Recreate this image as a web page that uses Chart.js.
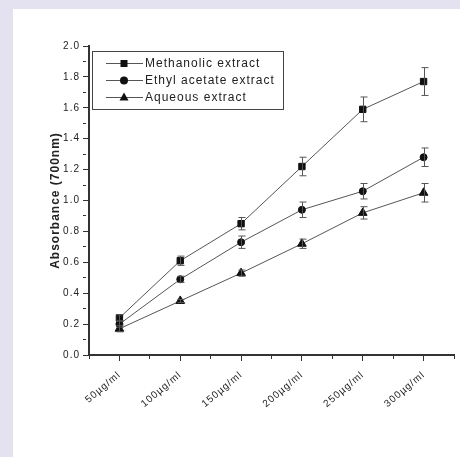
<!DOCTYPE html>
<html lang="en">
<head>
  <meta charset="UTF-8" />
  <title>Absorbance</title>
  <script src="https://cdn.jsdelivr.net/npm/chart.js@4"></script>
  <style>
    body { margin: 0; background: #e4e1f0; }
    #wrap { position: absolute; left: 13px; top: 9px; width: 447px; height: 448px; background: #fff; }
  </style>
</head>
<body>
  <div id="wrap">
    <canvas id="chart" width="447" height="448"></canvas>
  </div>

  <script>
    const categories = ['50µg/ml', '100µg/ml', '150µg/ml', '200µg/ml', '250µg/ml', '300µg/ml'];
    const seriesNames = ['Methanolic extract', 'Ethyl acetate extract', 'Aqueous extract'];
    const methanolic = [0.24, 0.61, 0.85, 1.22, 1.59, 1.77];
    const methanolicErr = [0.02, 0.03, 0.04, 0.06, 0.08, 0.09];
    const ethyl = [0.20, 0.49, 0.73, 0.94, 1.06, 1.28];
    const ethylErr = [0.02, 0.02, 0.04, 0.05, 0.05, 0.06];
    const aqueous = [0.17, 0.35, 0.53, 0.72, 0.92, 1.05];
    const aqueousErr = [0.02, 0.01, 0.02, 0.03, 0.04, 0.06];
    const yTitle = 'Absorbance (700nm)';

    const FONT = "'Liberation Sans', Arial, sans-serif";
    const INK = '#222';

    function makeSet(label, values, errs, style, radius) {
      return {
        label: label,
        data: values.map((v, i) => ({ x: i, y: v })),
        errors: errs,
        borderColor: '#555',
        borderWidth: 1,
        pointStyle: style,
        pointRadius: radius,
        pointBackgroundColor: '#111',
        pointBorderColor: '#111',
        pointBorderWidth: 1,
        tension: 0
      };
    }

    // canvas letter spacing, the original text is spread out
    const spacing = {
      id: 'spacing',
      beforeUpdate(chart) { chart.ctx.letterSpacing = '1px'; },
      beforeDraw(chart) { chart.ctx.letterSpacing = '1px'; }
    };

    // vertical error bars with caps
    const errorBars = {
      id: 'errorBars',
      afterDatasetsDraw(chart) {
        const ctx = chart.ctx;
        const xs = chart.scales.x, ys = chart.scales.y;
        ctx.save();
        ctx.strokeStyle = '#555';
        ctx.lineWidth = 1;
        chart.data.datasets.forEach(ds => {
          ds.data.forEach((p, i) => {
            const e = ds.errors[i];
            const x = Math.round(xs.getPixelForValue(p.x)) + 0.5;
            const top = ys.getPixelForValue(p.y + e);
            const bot = ys.getPixelForValue(p.y - e);
            ctx.beginPath();
            ctx.moveTo(x, top); ctx.lineTo(x, bot);
            ctx.moveTo(x - 3, top); ctx.lineTo(x + 4, top);
            ctx.moveTo(x - 3, bot); ctx.lineTo(x + 4, bot);
            ctx.stroke();
          });
        });
        ctx.restore();
      }
    };

    function marker(ctx, style, x, y) {
      ctx.beginPath();
      if (style === 'rect') {
        ctx.rect(x - 3.5, y - 3.5, 7, 7);
      } else if (style === 'circle') {
        ctx.arc(x, y, 4, 0, Math.PI * 2);
      } else {
        ctx.moveTo(x, y - 5);
        ctx.lineTo(x + 4.5, y + 3);
        ctx.lineTo(x - 4.5, y + 3);
        ctx.closePath();
      }
      ctx.fill();
    }

    // boxed legend with line + marker samples
    const boxLegend = {
      id: 'boxLegend',
      afterDraw(chart) {
        const ctx = chart.ctx;
        const a = chart.chartArea;
        const left = a.left + 3, top = a.top + 5;
        ctx.save();
        ctx.letterSpacing = '1px';
        ctx.strokeStyle = '#444';
        ctx.lineWidth = 1;
        ctx.strokeRect(left + 0.5, top + 0.5, 191, 58);
        ctx.font = '12px ' + FONT;
        ctx.textBaseline = 'middle';
        ctx.fillStyle = INK;
        chart.data.datasets.forEach((ds, i) => {
          const y = top + 12.5 + i * 17;
          ctx.strokeStyle = '#555';
          ctx.beginPath();
          ctx.moveTo(left + 14, y); ctx.lineTo(left + 51, y);
          ctx.stroke();
          ctx.fillStyle = '#111';
          marker(ctx, ds.pointStyle, left + 32, y);
          ctx.fillStyle = INK;
          ctx.fillText(ds.label, left + 53, y);
        });
        ctx.restore();
      }
    };

    const isMajorY = v => Math.abs(v * 5 - Math.round(v * 5)) < 1e-6;
    const isMajorX = v => Math.abs(v - Math.round(v)) < 1e-6;

    new Chart(document.getElementById('chart'), {
      type: 'line',
      data: {
        datasets: [
          makeSet(seriesNames[0], methanolic, methanolicErr, 'rect', 4.5),
          makeSet(seriesNames[1], ethyl, ethylErr, 'circle', 3.5),
          makeSet(seriesNames[2], aqueous, aqueousErr, 'triangle', 5)
        ]
      },
      options: {
        responsive: false,
        animation: false,
        layout: { padding: { left: 34, top: 37, right: 0, bottom: 0 } },
        plugins: { legend: { display: false }, tooltip: { enabled: false } },
        scales: {
          x: {
            type: 'linear',
            min: -0.5,
            max: 5.5,
            afterFit(s) { s.height = 102; s.paddingLeft = 0; s.paddingRight = 0; },
            border: { color: '#333', width: 2 },
            grid: {
              drawOnChartArea: false,
              tickLength: 6,
              tickColor: '#333',
              tickBorderDash: c => (c.tick && isMajorX(c.tick.value)) ? [] : [3, 20]
            },
            ticks: {
              stepSize: 0.5,
              autoSkip: false,
              minRotation: 40,
              maxRotation: 40,
              padding: 8,
              color: INK,
              font: { family: FONT, size: 10 },
              callback: v => isMajorX(v) ? (categories[Math.round(v)] || '') : ''
            }
          },
          y: {
            min: 0,
            max: 2,
            afterFit(s) { s.width = 42; },
            border: { color: '#333', width: 2 },
            grid: {
              drawOnChartArea: false,
              tickLength: 6,
              tickColor: '#333',
              tickBorderDash: c => (c.tick && isMajorY(c.tick.value)) ? [] : [3, 20]
            },
            ticks: {
              stepSize: 0.1,
              autoSkip: false,
              maxTicksLimit: 100,
              padding: 3,
              color: INK,
              font: { family: FONT, size: 10 },
              callback: v => isMajorY(v) ? v.toFixed(1) : ''
            },
            title: {
              display: true,
              text: yTitle,
              color: INK,
              font: { family: FONT, size: 12, weight: 'bold' },
              padding: { top: 1, bottom: 4 }
            }
          }
        }
      },
      plugins: [spacing, errorBars, boxLegend]
    });
  </script>
</body>
</html>
